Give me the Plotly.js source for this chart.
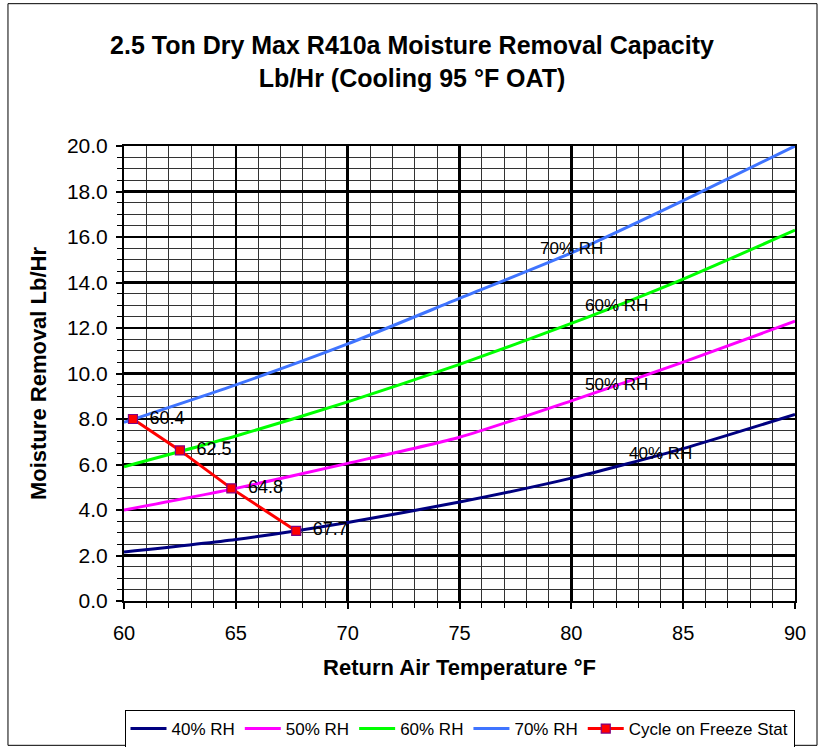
<!DOCTYPE html>
<html>
<head>
<meta charset="utf-8">
<script src="https://cdn.plot.ly/plotly-3.0.1.min.js"></script>
<style>html,body{margin:0;padding:0;background:#fff;}#chart{width:824px;height:747px;}</style>
</head>
<body>
<div id="chart"></div>
<script>
const temps = [60, 65, 70, 75, 80, 85, 90];
const rh40 = [2.15, 2.7, 3.45, 4.35, 5.4, 6.7, 8.2];
const rh50 = [4.0, 4.95, 6.05, 7.2, 8.8, 10.5, 12.3];
const rh60 = [5.9, 7.25, 8.75, 10.4, 12.2, 14.15, 16.3];
const rh70 = [7.85, 9.5, 11.3, 13.3, 15.3, 17.6, 20.0];
const freezeX = [60.4, 62.5, 64.8, 67.7];
const freezeY = [8.0, 6.62, 4.95, 3.08];
const freezeLabels = freezeX.map(v => '\u00a0\u00a0' + v.toFixed(1));
const seriesNames = ['40% RH', '50% RH', '60% RH', '70% RH', 'Cycle on Freeze Stat'];
const labelPos = [[84.0, 6.5], [82.0, 9.5], [82.0, 13.0], [80.0, 15.5]];

const font = 'Arial, "Liberation Sans", sans-serif';
function curve(y, name, color) {
  return {x: temps, y: y, name: name, mode: 'lines', type: 'scatter',
    line: {color: color, width: 3, shape: 'spline', smoothing: 0.6}, hoverinfo: 'skip'};
}
const data = [
  curve(rh40, seriesNames[0], '#000080'),
  curve(rh50, seriesNames[1], '#ff00ff'),
  curve(rh60, seriesNames[2], '#00ff00'),
  curve(rh70, seriesNames[3], '#3f74ff'),
  {x: freezeX, y: freezeY, name: seriesNames[4], mode: 'lines+markers+text', type: 'scatter',
   text: freezeLabels, textposition: 'middle right', textfont: {family: font, size: 18, color: '#000'},
   line: {color: '#ff0000', width: 3},
   marker: {symbol: 'square', size: 9, color: '#ff0000', line: {color: '#800080', width: 1.2}}}
];
const annotations = labelPos.map((p, i) => ({
  x: p[0], y: p[1], xref: 'x', yref: 'y', text: seriesNames[i], showarrow: false,
  font: {family: font, size: 17, color: '#000'}
}));
const layout = {
  width: 824, height: 747,
  margin: {l: 124, r: 29, t: 146, b: 146, autoexpand: false},
  paper_bgcolor: '#fff', plot_bgcolor: '#fff',
  font: {family: font, color: '#000'},
  title: {text: '<b>2.5 Ton Dry Max R410a Moisture Removal Capacity<br>Lb/Hr (Cooling 95 °F OAT)</b>',
    x: 0.5, xref: 'container', xanchor: 'center', y: 1 - 54 / 747, yref: 'container', yanchor: 'middle',
    font: {family: font, size: 25, color: '#000'}},
  xaxis: {range: [60, 90], dtick: 5, tick0: 60, showgrid: true, gridcolor: '#000', gridwidth: 2.5,
    showline: true, linecolor: '#000', linewidth: 2, mirror: true, zeroline: false,
    ticks: 'outside', ticklen: 6, tickwidth: 2, tickcolor: '#000', ticklabelstandoff: 7,
    tickfont: {family: font, size: 20, color: '#000'},
    minor: {dtick: 1, showgrid: true, gridcolor: '#333', gridwidth: 1, ticks: 'outside', ticklen: 5, tickcolor: '#000', tickwidth: 1},
    title: {text: '<b>Return Air Temperature °F</b>', font: {family: font, size: 22, color: '#000'}, standoff: 17}},
  yaxis: {range: [0, 20], dtick: 2, tick0: 0, tickformat: '.1f', showgrid: true, gridcolor: '#000', gridwidth: 2.5,
    showline: true, linecolor: '#000', linewidth: 2, mirror: true, zeroline: false,
    ticks: 'outside', ticklen: 6, tickwidth: 2, tickcolor: '#000', ticklabelstandoff: 4,
    tickfont: {family: font, size: 21, color: '#000'},
    minor: {dtick: 0.5, showgrid: true, gridcolor: '#333', gridwidth: 1, ticks: 'outside', ticklen: 5, tickcolor: '#000', tickwidth: 1},
    title: {text: '<b>Moisture Removal Lb/Hr</b>', font: {family: font, size: 22, color: '#000'}, standoff: 14}},
  showlegend: true,
  legend: {orientation: 'h', x: 0.5, xanchor: 'center', xref: 'paper', y: 1 - 710 / 747, yref: 'container', yanchor: 'top',
    bordercolor: '#000', borderwidth: 1, bgcolor: '#fff', itemwidth: 36,
    font: {family: font, size: 17, color: '#000'}, itemclick: false, tracegroupgap: 0},
  annotations: annotations,
  shapes: [{type: 'rect', xref: 'paper', yref: 'paper', x0: -0.1729, x1: 1.0328, y0: -0.3172, y1: 1.3128,
    line: {color: '#000', width: 1}, layer: 'below'}]
};
Plotly.newPlot('chart', data, layout, {displayModeBar: false, staticPlot: true});
</script>
</body>
</html>
